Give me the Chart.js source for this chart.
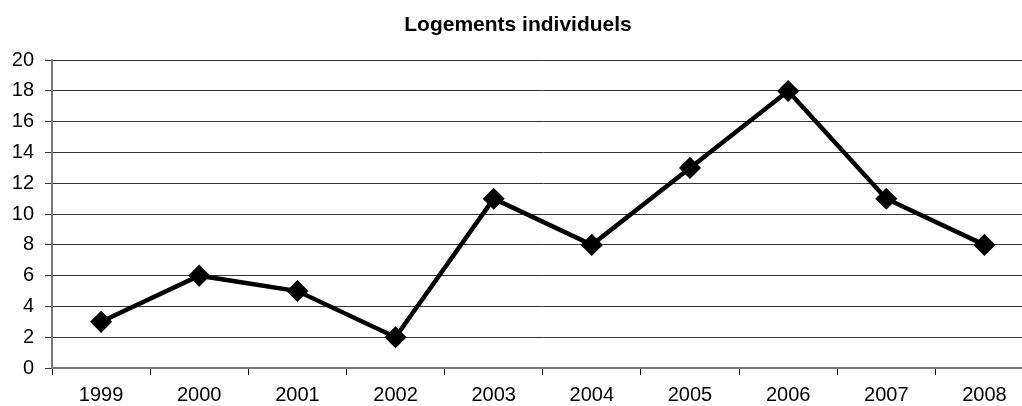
<!DOCTYPE html>
<html>
<head>
<meta charset="utf-8">
<script src="https://cdn.jsdelivr.net/npm/chart.js@4/dist/chart.umd.min.js"></script>
<style>
  html, body { margin: 0; padding: 0; background: #fff; overflow: hidden; }
  #wrap { width: 1022px; height: 406px; overflow: hidden; }
</style>
</head>
<body>
<div id="wrap"><canvas id="c" width="1045" height="406"></canvas></div>
<script>
// Annual count of individual dwellings
const years = ['1999', '2000', '2001', '2002', '2003', '2004', '2005', '2006', '2007', '2008'];
const logements = [3, 6, 5, 2, 11, 8, 13, 18, 11, 8];
const yMin = 0;
const yMax = 20;
const yStep = 2;

const tickFont = { family: 'Liberation Sans, Arial, sans-serif', size: 20 };

new Chart(document.getElementById('c'), {
  type: 'line',
  data: {
    labels: years,
    datasets: [{
      data: logements,
      borderColor: '#000',
      borderWidth: 4.5,
      backgroundColor: '#000',
      pointStyle: 'rectRot',
      pointRadius: 10,
      pointBorderWidth: 1.5,
      pointBackgroundColor: '#000',
      pointBorderColor: '#000',
      tension: 0,
      fill: false
    }]
  },
  options: {
    responsive: false,
    animation: false,
    layout: { padding: { left: 0, right: 9, top: 0, bottom: 0 } },
    plugins: {
      legend: { display: false },
      tooltip: { enabled: false },
      title: {
        display: true,
        text: 'Logements individuels',
        color: '#000',
        font: { family: 'Liberation Sans, Arial, sans-serif', size: 21, weight: 'bold' },
        padding: { top: 13, bottom: 22 }
      }
    },
    scales: {
      x: {
        offset: true,
        grid: {
          offset: true,
          drawOnChartArea: false,
          color: '#000',
          tickLength: 7,
          tickWidth: 1
        },
        border: { color: '#777', width: 2 },
        ticks: { color: '#000', font: tickFont, padding: 8, maxRotation: 0 },
        afterFit: (s) => { s.height = 38; }
      },
      y: {
        min: yMin,
        max: yMax,
        grid: {
          color: '#333',
          lineWidth: 1,
          tickLength: 7,
          tickColor: '#333'
        },
        border: { color: '#777', width: 2 },
        ticks: { stepSize: yStep, color: '#000', font: tickFont, padding: 11 },
        afterFit: (s) => { s.width = 52; }
      }
    }
  }
});
</script>
</body>
</html>
